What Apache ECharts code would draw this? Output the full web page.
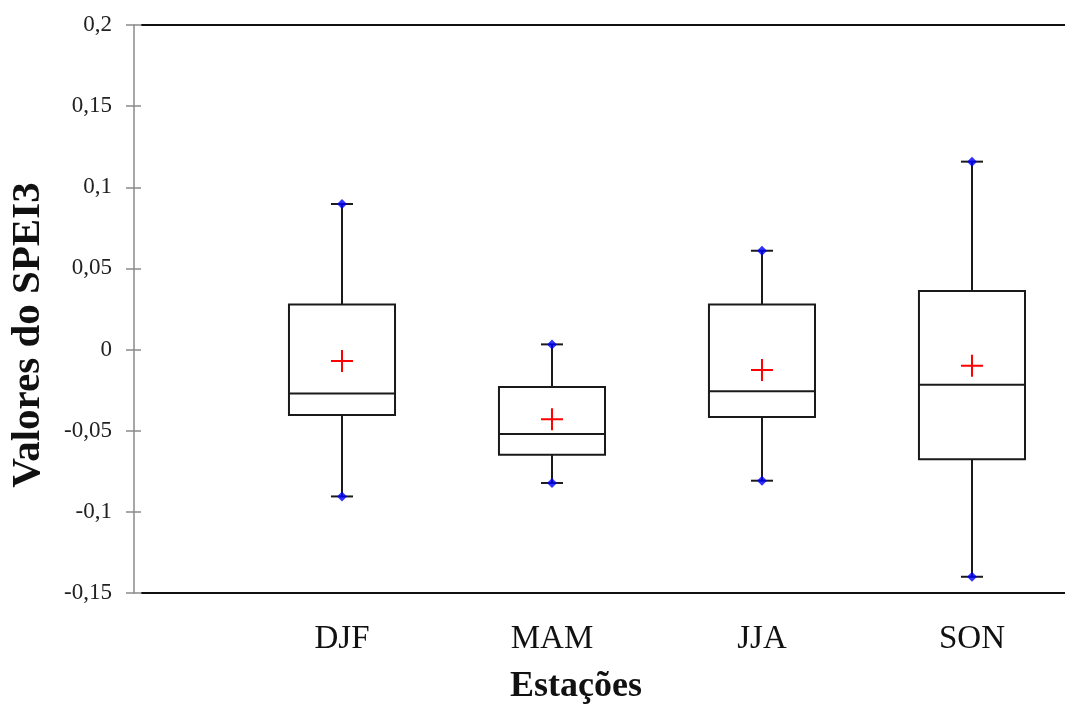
<!DOCTYPE html>
<html><head><meta charset="utf-8">
<script src="https://cdn.jsdelivr.net/npm/echarts@6/dist/echarts.min.js"></script>
<style>html,body{margin:0;padding:0;background:#fff}#c{width:1065px;height:705px}</style>
</head><body><div id="c"></div>
<script>
// ---- data ----
const categories = ['DJF', 'MAM', 'JJA', 'SON'];
const whiskerMin = [-0.0905, -0.0822, -0.0808, -0.1400];
const q1         = [-0.0403, -0.0648, -0.0415, -0.0676];
const median     = [-0.0270, -0.0520, -0.0257, -0.0216];
const q3         = [ 0.0277, -0.0231,  0.0277,  0.0361];
const whiskerMax = [ 0.0897,  0.0032,  0.0609,  0.1158];
const means      = [-0.0070, -0.0430, -0.0126, -0.0099];
const yMin = -0.15, yMax = 0.2, yStep = 0.05;
const xLabel = 'Estações';
const yLabel = 'Valores do SPEI3';

// ---- styles ----
const SERIF = '"Liberation Serif", "DejaVu Serif", serif';
const BOX_W = 0.505;   // in x units
const CAP_W = 0.105;
const LINE = '#1a1a1a';

const boxData = categories.map((c, i) => [i + 1, whiskerMin[i], q1[i], median[i], q3[i], whiskerMax[i]]);
const extremeData = [];
categories.forEach((c, i) => { extremeData.push([i + 1, whiskerMin[i]]); extremeData.push([i + 1, whiskerMax[i]]); });
const meanData = categories.map((c, i) => [i + 1, means[i]]);

const fmtY = v => { const r = Math.round(v * 100) / 100; return String(r).replace('.', ','); };

const chart = echarts.init(document.getElementById('c'), null, { renderer: 'canvas' });
const baseY = { type: 'value', min: yMin, max: yMax, interval: yStep, splitLine: { show: false } };

chart.setOption({
  backgroundColor: '#ffffff',
  animation: false,
  grid: [
    { left: 132, right: 0, top: 25, bottom: 112 },
    { left: 142, right: 0, top: 25, bottom: 112 }
  ],
  xAxis: [
    { gridIndex: 0, type: 'value', min: 0, max: 4.443, interval: 1,
      axisLine: { show: false, onZero: false }, axisTick: { show: false }, splitLine: { show: false },
      axisLabel: { showMaxLabel: false, margin: 30, color: '#111', fontFamily: SERIF, fontSize: 33,
        formatter: v => (Math.abs(v - Math.round(v)) < 1e-6 && categories[Math.round(v) - 1]) || '' } },
    { gridIndex: 1, type: 'value', min: 0, max: 1, position: 'bottom',
      axisLine: { show: true, onZero: false, lineStyle: { color: '#111', width: 2 } },
      axisTick: { show: false }, axisLabel: { show: false }, splitLine: { show: false } },
    { gridIndex: 1, type: 'value', min: 0, max: 1, position: 'top',
      axisLine: { show: true, onZero: false, lineStyle: { color: '#111', width: 2 } },
      axisTick: { show: false }, axisLabel: { show: false }, splitLine: { show: false } }
  ],
  yAxis: [
    Object.assign({ gridIndex: 0, axisLine: { show: false, onZero: false }, axisTick: { show: false }, axisLabel: { show: false } }, baseY),
    Object.assign({ gridIndex: 1, position: 'left', offset: 8,
      axisLine: { show: true, onZero: false, lineStyle: { color: '#8a8a8a', width: 1.5 } },
      axisTick: { show: true, length: 8, lineStyle: { color: '#8a8a8a', width: 1.5 } },
      axisLabel: { margin: 22, color: '#222', fontFamily: SERIF, fontSize: 23, formatter: fmtY } }, baseY),
    Object.assign({ gridIndex: 1, position: 'left', offset: 8,
      axisLine: { show: false, onZero: false },
      axisTick: { show: true, inside: true, length: 7, lineStyle: { color: '#8a8a8a', width: 1.5 } },
      axisLabel: { show: false } }, baseY)
  ],
  series: [
    {
      type: 'custom', xAxisIndex: 0, yAxisIndex: 0,
      data: boxData, encode: { x: 0, y: [1, 2, 3, 4, 5] },
      renderItem: (params, api) => {
        const x = api.value(0);
        const pMin = api.coord([x, api.value(1)]);
        const pQ1 = api.coord([x, api.value(2)]);
        const pMed = api.coord([x, api.value(3)]);
        const pQ3 = api.coord([x, api.value(4)]);
        const pMax = api.coord([x, api.value(5)]);
        const hw = api.size([BOX_W, 0])[0] / 2;
        const cw = api.size([CAP_W, 0])[0] / 2;
        const st = { stroke: LINE, lineWidth: 2, fill: null };
        const line = (x1, y1, x2, y2) => ({ type: 'line', shape: { x1, y1, x2, y2 }, style: st });
        return { type: 'group', children: [
          line(pMax[0], pMax[1], pQ3[0], pQ3[1]),
          line(pQ1[0], pQ1[1], pMin[0], pMin[1]),
          line(pMax[0] - cw, pMax[1], pMax[0] + cw, pMax[1]),
          line(pMin[0] - cw, pMin[1], pMin[0] + cw, pMin[1]),
          { type: 'rect', shape: { x: pQ3[0] - hw, y: pQ3[1], width: hw * 2, height: pQ1[1] - pQ3[1] },
            style: { stroke: LINE, lineWidth: 2, fill: '#fff' } },
          line(pMed[0] - hw, pMed[1], pMed[0] + hw, pMed[1])
        ] };
      },
      z: 2
    },
    {
      type: 'scatter', xAxisIndex: 0, yAxisIndex: 0, data: extremeData,
      symbol: 'diamond', symbolSize: 10, itemStyle: { color: '#0000ff' }, z: 3
    },
    {
      type: 'scatter', xAxisIndex: 0, yAxisIndex: 0, data: meanData,
      symbol: 'path://M0,10H22V12H0Z M10,0H12V22H10Z', symbolSize: 22,
      symbolKeepAspect: true, itemStyle: { color: '#ff0000', opacity: 1 }, z: 4
    }
  ],
  graphic: [
    { type: 'text', x: 576, y: 687, style: { text: xLabel, font: 'bold 36px ' + SERIF, fill: '#111', textAlign: 'center', textVerticalAlign: 'middle' } },
    { type: 'text', x: 28, y: 335, rotation: Math.PI / 2, style: { text: yLabel, font: 'bold 41px ' + SERIF, fill: '#111', textAlign: 'center', textVerticalAlign: 'middle' } }
  ]
});
</script></body></html>
